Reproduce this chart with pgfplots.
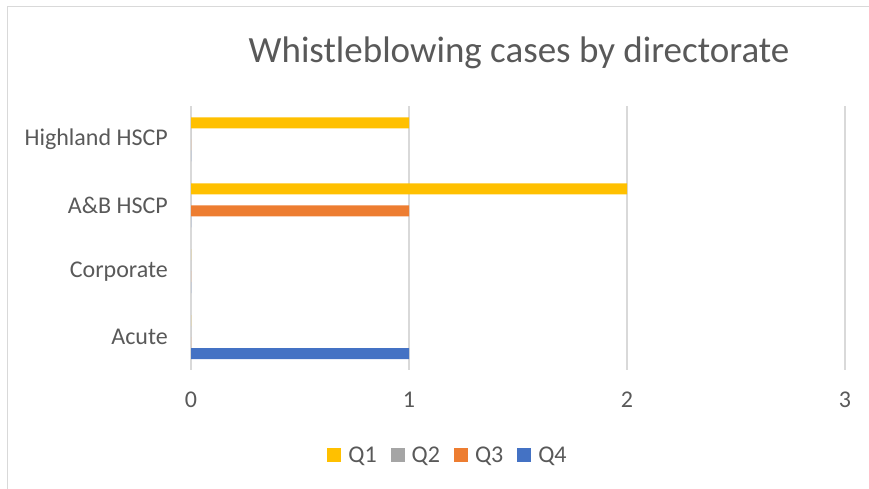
\documentclass[border=0pt]{standalone}
\usepackage{pgfplots}
\pgfplotsset{compat=1.18}
\usepackage{fontspec}
\setmainfont{Carlito}
\definecolor{cQ1}{HTML}{FFC000}
\definecolor{cQ2}{HTML}{A5A5A5}
\definecolor{cQ3}{HTML}{ED7D31}
\definecolor{cQ4}{HTML}{4472C4}
\definecolor{gridc}{HTML}{D9D9D9}
\definecolor{txt}{HTML}{595959}
\begin{document}
\begin{tikzpicture}
\useasboundingbox (0pt,0pt) rectangle (869pt,489pt);
\draw[gridc, line width=1.2pt] (7.5pt,0pt) -- (7.5pt,482.5pt) -- (869pt,482.5pt);
\node[anchor=base, text=txt, font=\fontsize{37}{42}\selectfont] at (519pt,426pt) {Whistleblowing cases by directorate};
\begin{axis}[
  at={(191pt,119pt)}, anchor=south west,
  scale only axis, width=654pt, height=263.5pt,
  xmin=0, xmax=3, ymin=-0.5, ymax=3.5,
  xtick={0,1,2,3}, ytick={0,1,2,3},
  yticklabels={Acute,Corporate,A\&B HSCP,Highland HSCP},
  xmajorgrids, major grid style={gridc, line width=1.3pt},
  axis line style={draw=none}, major tick length=0pt,
  /pgf/number format/assume math mode=true,
  ticklabel style={text=txt, font=\fontsize{24}{28}\selectfont, inner sep=0pt},
  yticklabel style={anchor=east, xshift=-23pt},
  xticklabel style={anchor=north, yshift=-22pt},
  xbar, bar width=0.1667,
  legend style={at={(0.393,-0.3226)}, anchor=center, draw=none, legend columns=4,
    font=\fontsize{24}{28}\selectfont, text=txt,
    /tikz/every odd column/.append style={column sep=5pt},
    /tikz/every even column/.append style={column sep=12pt}},
  legend image code/.code={\fill[#1] (0pt,-7pt) rectangle (14pt,7pt);},
]
\addplot[fill=cQ1, draw=none, bar shift=0.25] coordinates {(0,0) (0,1) (2,2) (1,3)};
\addplot[fill=cQ2, draw=none, bar shift=0.0833] coordinates {(0,0) (0,1) (0,2) (0,3)};
\addplot[fill=cQ3, draw=none, bar shift=-0.0833] coordinates {(0,0) (0,1) (1,2) (0,3)};
\addplot[fill=cQ4, draw=none, bar shift=-0.25] coordinates {(1,0) (0,1) (0,2) (0,3)};
\legend{Q1,Q2,Q3,Q4}
\end{axis}
\end{tikzpicture}
\end{document}
